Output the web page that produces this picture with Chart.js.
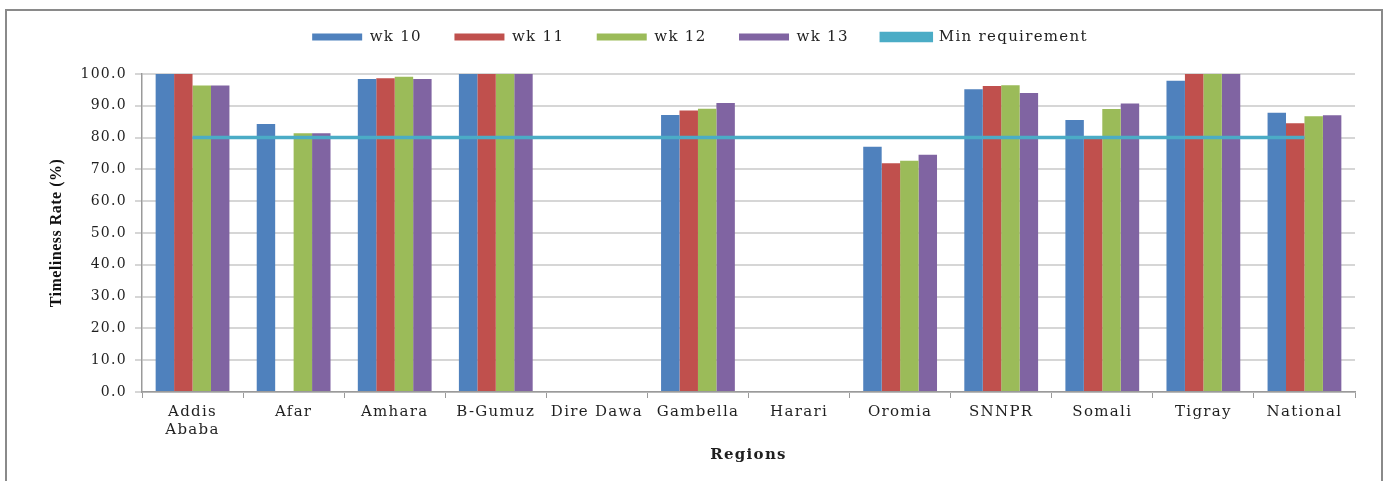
<!DOCTYPE html>
<html>
<head>
<meta charset="utf-8">
<script src="https://cdn.jsdelivr.net/npm/chart.js@4/dist/chart.umd.min.js"></script>
<style>
  html, body { margin: 0; padding: 0; background: #fff; }
  #wrap { position: relative; width: 1389px; height: 481px; overflow: hidden; background: #fff; }
  #frame { position: absolute; left: 5px; top: 9px; width: 1378px; height: 520px;
           border: 2px solid #8a8a8a; box-sizing: border-box; pointer-events: none; }
  canvas { position: absolute; left: 0; top: 0; }
</style>
</head>
<body>
<div id="wrap">
  <canvas id="chart" width="1389" height="481"></canvas>
  <div id="frame"></div>
</div>
<script>
// Timeliness of weekly reporting by region, weeks 10-13
const regions = [['Addis', 'Ababa'], 'Afar', 'Amhara', 'B-Gumuz', 'Dire Dawa', 'Gambella',
                 'Harari', 'Oromia', 'SNNPR', 'Somali', 'Tigray', 'National'];
const wk10 = [100.0, 84.3, 98.4, 100.0, null, 87.1, null, 77.1, 95.2, 85.5, 97.9, 87.8];
const wk11 = [100.0, null, 98.7, 100.0, null, 88.5, null, 71.9, 96.2, 79.8, 100.0, 84.5];
const wk12 = [96.4, 81.4, 99.1, 100.0, null, 89.1, null, 72.7, 96.5, 89.0, 100.0, 86.7];
const wk13 = [96.4, 81.4, 98.4, 100.0, null, 90.9, null, 74.6, 94.0, 90.7, 100.0, 87.0];
const minRequirement = [80, 80, 80, 80, 80, 80, 80, 80, 80, 80, 80, 80];
const seriesNames = ['wk 10', 'wk 11', 'wk 12', 'wk 13', 'Min requirement'];

const SERIF = "'DejaVu Serif', 'Liberation Serif', serif";
const TITLE_SERIF = "'Liberation Serif', 'Times New Roman', serif";
const TEXT = '#1f1f1f';

// Open letter spacing for the chart text; the vertical axis title is set tighter.
const letterSpacing = {
  id: 'letterSpacing',
  beforeLayout(chart) { chart.ctx.letterSpacing = '1.3px'; },
  beforeDraw(chart) { chart.ctx.letterSpacing = '1.3px'; },
  afterLayout(chart) {
    const y = chart.scales.y;
    if (y && !y._tightTitle) {
      const orig = y.drawTitle;
      y.drawTitle = function () {
        const c = this.ctx;
        const prev = c.letterSpacing;
        c.letterSpacing = '0.5px';
        orig.apply(this, arguments);
        c.letterSpacing = prev;
      };
      y._tightTitle = true;
    }
  }
};

// Fixed legend band height above the plot
const legendBand = {
  id: 'legendBand',
  beforeLayout(chart) {
    const lg = chart.legend;
    if (lg && !lg._fixedBand) {
      const fit = lg.fit;
      lg.fit = function () { fit.call(this); this.height = 77; };
      lg._fixedBand = true;
    }
  }
};

const barColors = ['#4F81BD', '#C0504D', '#9BBB59', '#8064A2'];
const barSeries = [wk10, wk11, wk12, wk13];

const datasets = barSeries.map((values, i) => ({
  type: 'bar',
  label: seriesNames[i],
  data: values,
  backgroundColor: barColors[i],
  borderWidth: 0,
  categoryPercentage: 0.73,
  barPercentage: 1.0,
  order: 1
}));

datasets.push({
  type: 'line',
  label: seriesNames[4],
  data: minRequirement,
  borderColor: '#4BACC6',
  backgroundColor: '#4BACC6',
  borderWidth: 3.5,
  pointRadius: 0,
  tension: 0,
  order: 0
});

new Chart(document.getElementById('chart'), {
  data: { labels: regions, datasets },
  options: {
    responsive: false,
    animation: false,
    devicePixelRatio: 1,
    layout: { padding: { left: 45, right: 34, top: -3, bottom: 0 } },
    plugins: {
      tooltip: { enabled: false },
      legend: {
        position: 'top',
        align: 'center',
        labels: {
          font: { family: SERIF, size: 15 },
          color: TEXT,
          boxWidth: 50,
          boxHeight: 7,
          padding: 32.5,
          sort: (a, b) => a.datasetIndex - b.datasetIndex
        }
      }
    },
    scales: {
      x: {
        offset: true,
        grid: { display: true, drawOnChartArea: false, drawTicks: true, tickLength: 6,
                color: '#9a9a9a', offset: true },
        border: { display: true, color: '#9a9a9a', width: 1.5 },
        ticks: { font: { family: SERIF, size: 15, lineHeight: 1.2 }, color: TEXT,
                 padding: 5, maxRotation: 0, autoSkip: false },
        title: { display: true, text: 'Regions', color: TEXT,
                 font: { family: SERIF, size: 15, weight: 'bold' },
                 padding: { top: 0, bottom: 17 } },
        afterFit(scale) { scale.height = 89; }
      },
      y: {
        min: 0,
        max: 100,
        grid: { color: '#d6d6d6', lineWidth: 2, tickLength: 7, drawTicks: true },
        border: { display: true, color: '#9a9a9a', width: 1.5 },
        ticks: { stepSize: 10, font: { family: SERIF, size: 14 }, color: TEXT, padding: 8,
                 callback: v => Number(v).toFixed(1) },
        title: { display: true, text: 'Timeliness Rate (%)', color: '#111',
                 font: { family: TITLE_SERIF, size: 16, weight: 'bold' },
                 padding: { top: 2.4, bottom: 0 } },
        afterFit(scale) { scale.width = 97; }
      }
    }
  },
  plugins: [letterSpacing, legendBand]
});
</script>
</body>
</html>
